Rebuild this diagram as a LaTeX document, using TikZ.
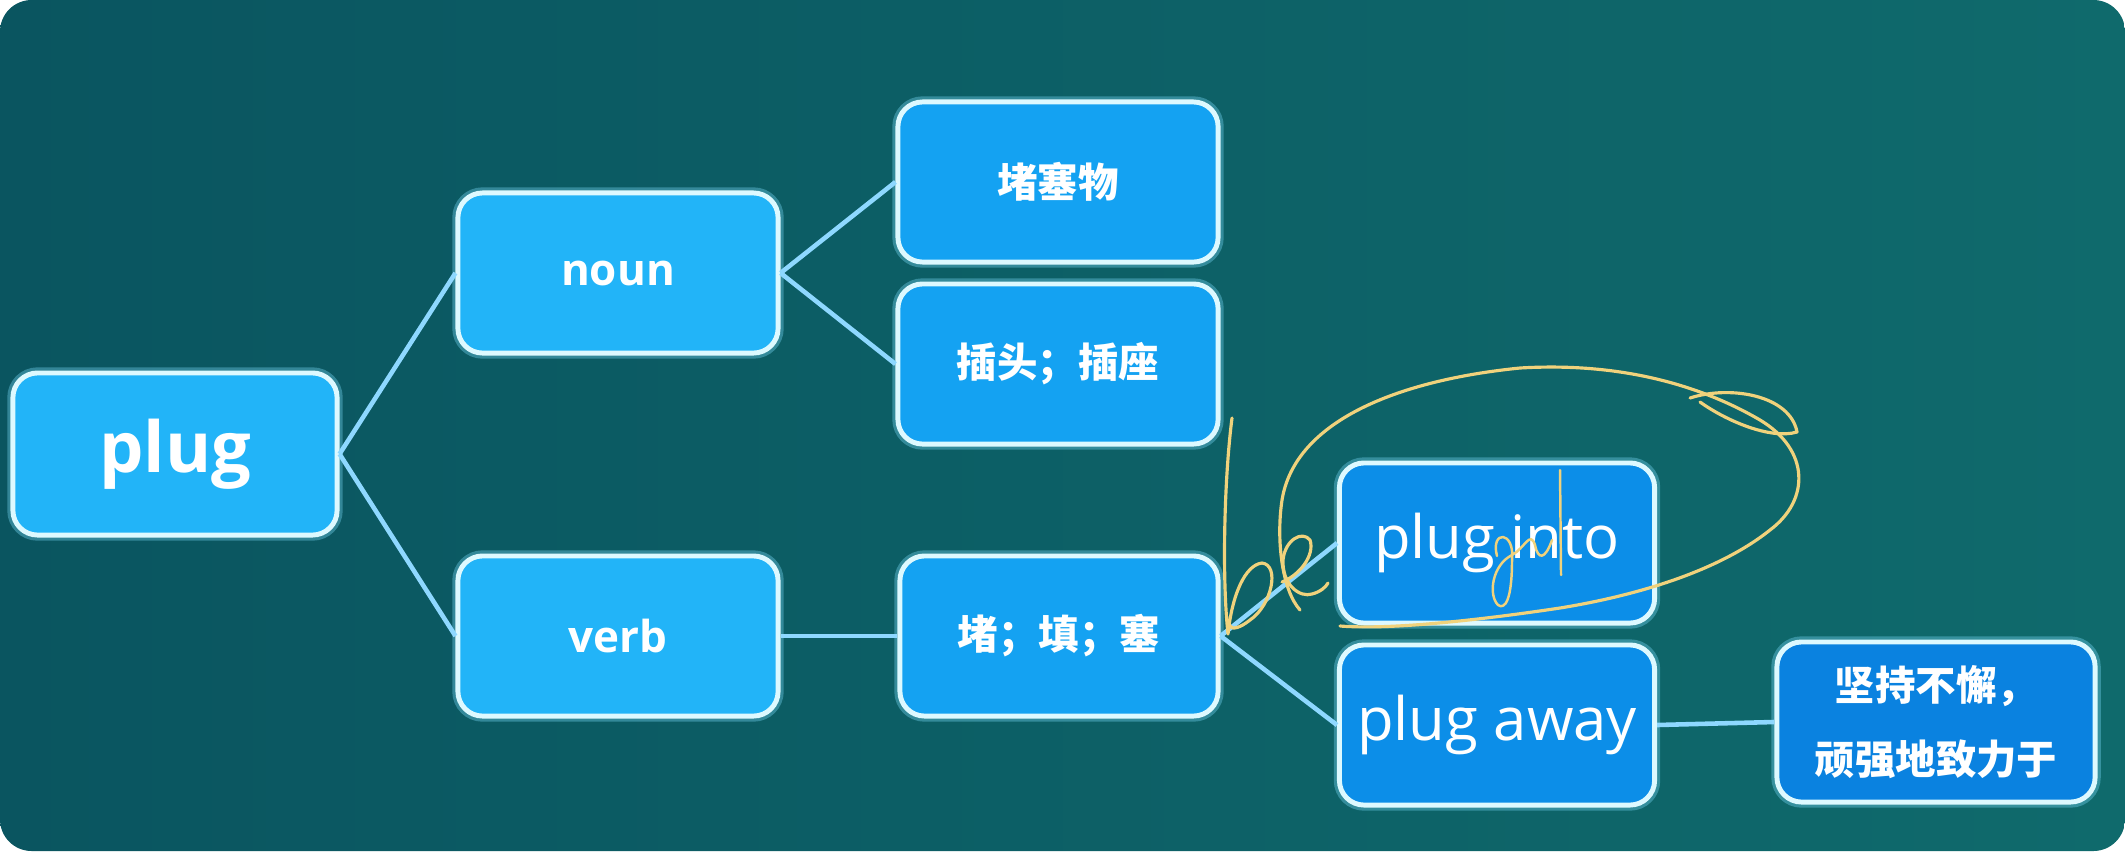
\documentclass[tikz,border=0pt]{standalone}
\usepackage{fontspec}
\setmainfont{Open Sans}
\newfontfamily\cjk{Noto Sans CJK SC}
\definecolor{bgL}{HTML}{0A5560}
\definecolor{bgR}{HTML}{0F6A6C}
\definecolor{fillA}{HTML}{22B4F8}
\definecolor{fillB}{HTML}{14A2F2}
\definecolor{fillC}{HTML}{0C8EE8}
\definecolor{fillD}{HTML}{0A82E0}
\definecolor{rim}{HTML}{DDF9FF}
\definecolor{glow}{HTML}{7FDFFF}
\definecolor{linkc}{HTML}{8ED8FF}
\definecolor{ink}{HTML}{F0D27C}
\tikzset{
  box/.style={rectangle, rounded corners=7pt, draw=rim, line width=1.4pt,
    text=white, align=center, inner sep=0pt,
    minimum width=3.18cm, minimum height=1.6cm,
    preaction={draw=glow, draw opacity=0.35, line width=3.2pt}},
  lvA/.style={box, fill=fillA},
  lvB/.style={box, fill=fillB},
  lvC/.style={box, fill=fillC},
  lvD/.style={box, fill=fillD},
  link/.style={draw=linkc, line width=1.3pt},
  hand/.style={draw=ink, line width=0.9pt, line cap=round, line join=round}
}
\begin{document}
\begin{tikzpicture}[x=0.01cm, y=-0.01cm]
\useasboundingbox (0,0) rectangle (2125,851);
\fill[white] (0,0) rectangle (2125,851);
\shade[left color=bgL, right color=bgR, rounded corners=9pt] (0,0) rectangle (2125,851);

% nodes
\node[lvA, minimum width=3.24cm, minimum height=1.62cm, font=\bfseries\fontsize{20}{24}\selectfont] (plug) at (175,454) {plug};
\node[lvA, minimum width=3.2cm, font=\bfseries\fontsize{12.5}{15}\selectfont] (noun) at (618,273) {noun};
\node[lvA, minimum width=3.2cm, font=\bfseries\fontsize{12.5}{15}\selectfont] (verb) at (618,636) {verb};
\node[lvB, minimum width=3.2cm, font=\cjk\bfseries\fontsize{11.5}{14}\selectfont] (obs) at (1058,182) {堵塞物};
\node[lvB, minimum width=3.2cm, font=\cjk\bfseries\fontsize{11.5}{14}\selectfont] (sock) at (1058,364) {插头；插座};
\node[lvB, minimum width=3.18cm, font=\cjk\bfseries\fontsize{11.5}{14}\selectfont] (fill) at (1059,636) {堵；填；塞};
\node[lvC, minimum width=3.15cm, font=\fontsize{17}{20}\selectfont] (into) at (1497,543) {plug into};
\node[lvC, minimum width=3.15cm, font=\fontsize{17}{20}\selectfont] (away) at (1497,725) {plug away};
\node[lvD, minimum width=3.18cm, font=\cjk\bfseries\fontsize{11.5}{21}\selectfont] (pers) at (1936,722) {坚持不懈，\\顽强地致力于};

% connectors
\draw[link] (plug.east) -- (noun.west);
\draw[link] (plug.east) -- (verb.west);
\draw[link] (noun.east) -- (obs.west);
\draw[link] (noun.east) -- (sock.west);
\draw[link] (verb.east) -- (fill.west);
\draw[link] (fill.east) -- (into.west);
\draw[link] (fill.east) -- (away.west);
\draw[link] (away.east) -- (pers.west);

% handwritten annotation
% "b"
\draw[hand] (1232,418) .. controls (1224,480) and (1222,580) .. (1228,634)
  .. controls (1232,595) and (1245,565) .. (1262,563)
  .. controls (1280,565) and (1272,605) .. (1250,620)
  .. controls (1240,628) and (1232,630) .. (1230,626);
% "e"
\draw[hand] (1282,582) .. controls (1300,575) and (1315,555) .. (1310,540)
  .. controls (1302,530) and (1285,540) .. (1283,560)
  .. controls (1282,585) and (1300,598) .. (1312,594)
  .. controls (1320,592) and (1326,587) .. (1328,583);
% loop around "plug into"
\draw[hand] (1300,610) .. controls (1282,590) and (1276,540) .. (1282,500)
  .. controls (1295,420) and (1400,380) .. (1520,368)
  .. controls (1620,362) and (1700,385) .. (1760,420)
  .. controls (1810,450) and (1810,500) .. (1770,530)
  .. controls (1720,570) and (1640,595) .. (1560,608)
  .. controls (1480,620) and (1390,630) .. (1340,626);
\draw[hand] (1690,398) .. controls (1730,385) and (1790,395) .. (1797,432)
  .. controls (1770,440) and (1725,420) .. (1700,402);
% scribble over "in"
\draw[hand, line width=0.7pt] (1560,470) -- (1561,575);
\draw[hand, line width=0.7pt] (1497,556) .. controls (1490,530) and (1515,530) .. (1512,560)
  .. controls (1512,600) and (1505,610) .. (1498,605)
  .. controls (1488,595) and (1492,565) .. (1512,555)
  .. controls (1525,548) and (1530,530) .. (1535,545)
  .. controls (1538,560) and (1545,560) .. (1552,540);
\end{tikzpicture}
\end{document}
